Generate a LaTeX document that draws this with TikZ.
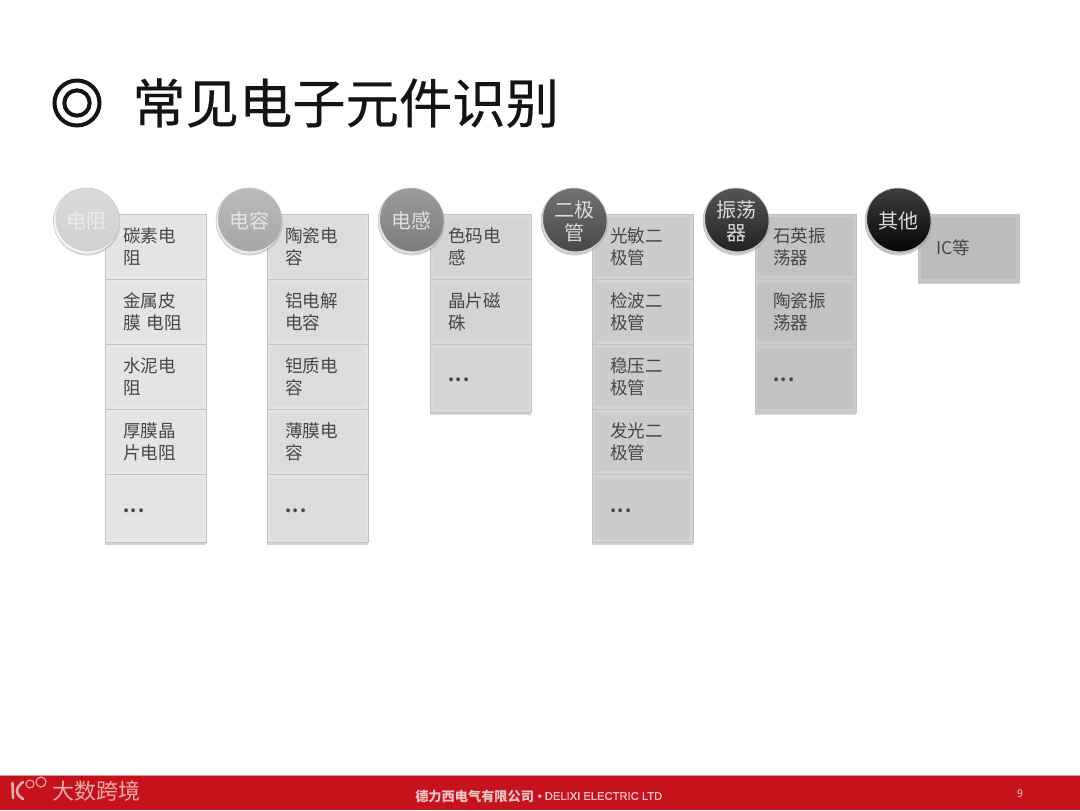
\documentclass[tikz,border=0pt]{standalone}
\usepackage{fontspec}
\setmainfont{Noto Sans CJK SC}
\newfontfamily\titlefont[FakeBold=0.35]{Noto Sans CJK SC}
\newfontfamily\footlatin[FakeBold=1]{Liberation Sans}
\newcommand{\celldots}{\raisebox{-5pt}{\bfseries.\hspace{1.1pt}.\hspace{1.1pt}.}}
\definecolor{footred}{RGB}{198,18,28}
\definecolor{footpink}{RGB}{240,196,196}
\definecolor{brandpink}{RGB}{236,172,172}
\definecolor{cellA}{RGB}{228,228,228}
\definecolor{cellB}{RGB}{220,220,220}
\definecolor{cellC}{RGB}{212,212,212}
\definecolor{cellD}{RGB}{204,204,204}
\definecolor{cellE}{RGB}{194,194,194}
\definecolor{cellF}{RGB}{188,188,188}
\definecolor{ballA}{RGB}{208,208,208}
\definecolor{ballB}{RGB}{166,166,166}
\definecolor{ballC}{RGB}{124,124,124}
\definecolor{ballD}{RGB}{70,70,70}
\definecolor{ballE}{RGB}{32,32,32}
\definecolor{ballF}{RGB}{3,3,3}
\usetikzlibrary{positioning, shadows, fadings}
\tikzfading[name=topgloss, top color=transparent!76, middle color=transparent!100, bottom color=transparent!100]

\begin{document}
\begin{tikzpicture}[
    x=0.75pt, y=-0.75pt,
    cellbox/.style={draw=black!24, line width=0.5pt, fill=#1, text=black!72,
      text width=48.75pt, minimum height=48.9pt, inner xsep=13.5pt, inner ysep=0pt,
      outer sep=0pt, align=left, font=\fontsize{13.2}{16.5}\selectfont,
      path picture={
        \draw[white, opacity=0.16, line width=5pt] (path picture bounding box.north west)
          rectangle (path picture bounding box.south east);
      }},
    lastcell/.style={minimum height=51pt, drop shadow={shadow xshift=0pt, shadow yshift=-1.8pt, opacity=0.35}},
    ball/.style={circle, draw=black!22, line width=0.4pt, fill=#1, minimum size=49.5pt, inner sep=0pt,
      align=center, font=\fontsize{15}{17.3}\selectfont,
      drop shadow={shadow xshift=0.6pt, shadow yshift=-1.2pt, opacity=0.3},
      path picture={
        \fill[white, path fading=topgloss] (path picture bounding box.north west)
          rectangle (path picture bounding box.south east);
        \fill[white, opacity=0.75, even odd rule] (path picture bounding box.center) circle [radius=33]
          ([shift={(1.6,-2.2)}]path picture bounding box.center) circle [radius=32.6];
      }},
    markring/.style={circle, draw=black!92, line width=3pt, inner sep=0pt, minimum size=#1},
    node distance=0pt,
  ]
    \useasboundingbox (0, 0) rectangle (1080, 810);
    % title
    \node[markring=33.75pt] (mark) at (77, 103) {};
    \node[markring=19pt] (markin) at (mark.center) {};
    \node[anchor=west, inner sep=0pt, font=\titlefont\fontsize{40}{44}\selectfont, text=black!92] (title) at (132, 103) {常见电子元件识别};

    % columns
    \node[cellbox=cellA, anchor=north west] (r1) at (105, 214) {碳素电\\阻};
    \node[cellbox=cellA, below=of r1] (r2) {金属皮\\膜 电阻};
    \node[cellbox=cellA, below=of r2] (r3) {水泥电\\阻};
    \node[cellbox=cellA, below=of r3] (r4) {厚膜晶\\片电阻};
    \node[cellbox=cellA, lastcell, below=of r4] (r5) {\celldots};

    \node[cellbox=cellB, anchor=north west] (c1) at (267, 214) {陶瓷电\\容};
    \node[cellbox=cellB, below=of c1] (c2) {铝电解\\电容};
    \node[cellbox=cellB, below=of c2] (c3) {钽质电\\容};
    \node[cellbox=cellB, below=of c3] (c4) {薄膜电\\容};
    \node[cellbox=cellB, lastcell, below=of c4] (c5) {\celldots};

    \node[cellbox=cellC, anchor=north west] (l1) at (430, 214) {色码电\\感};
    \node[cellbox=cellC, below=of l1] (l2) {晶片磁\\硃};
    \node[cellbox=cellC, lastcell, below=of l2] (l3) {\celldots};

    \node[cellbox=cellD, anchor=north west] (d1) at (592, 214) {光敏二\\极管};
    \node[cellbox=cellD, below=of d1] (d2) {检波二\\极管};
    \node[cellbox=cellD, below=of d2] (d3) {稳压二\\极管};
    \node[cellbox=cellD, below=of d3] (d4) {发光二\\极管};
    \node[cellbox=cellD, lastcell, below=of d4] (d5) {\celldots};

    \node[cellbox=cellE, anchor=north west] (o1) at (755, 214) {石英振\\荡器};
    \node[cellbox=cellE, below=of o1] (o2) {陶瓷振\\荡器};
    \node[cellbox=cellE, lastcell, below=of o2] (o3) {\celldots};

    \node[cellbox=cellF, lastcell, anchor=north west] (x1) at (918, 214) {IC等};

    % balls
    \node[ball=ballA, text=white!92!black] (br) at (86.5, 221) {电阻};
    \node[ball=ballB, text=white!90!black] (bc) at (249, 221) {电容};
    \node[ball=ballC, text=white!88!black] (bl) at (411, 221) {电感};
    \node[ball=ballD, text=white!85!black] (bd) at (574, 221) {二极\\管};
    \node[ball=ballE, text=white!85!black] (bo) at (736, 221) {振荡\\器};
    \node[ball=ballF, text=white!85!black] (bx) at (898, 221) {其他};

    % footer
    \node[anchor=north west, fill=footred, minimum width=810pt, minimum height=26.5pt, inner sep=0pt, outer sep=0pt] (foot) at (0, 775) {};
    \fill[footred!45!white] (foot.north west) rectangle ([yshift=-1pt]foot.north east);
    \draw[brandpink, line width=2pt, line cap=round] (12.5, 783) -- (13, 798);
    \draw[brandpink, line width=2pt, line cap=round] (23, 782) .. controls (15, 788) and (15, 794) .. (23, 799);
    \draw[brandpink, line width=0.8pt] (30, 784) circle [radius=4] (41, 782) circle [radius=5];
    \node[anchor=west, inner sep=0pt, text=brandpink, font=\fontsize{16.5}{18}\selectfont] (brand) at (52, 791) {大数跨境};
    \node[anchor=west, inner sep=0pt, text=footpink, font=\fontsize{9.9}{11}\selectfont\bfseries] (company) at (415, 796) {德力西电气有限公司};
    \node[anchor=west, inner sep=0pt, text=footpink, font=\footlatin\fontsize{8.4}{11}\selectfont] (companyen) at (537.5, 796) {• DELIXI ELECTRIC LTD};
    \node[inner sep=0pt, text=footpink, font=\fontsize{8}{10}\selectfont] (pageno) at (1020, 794) {9};
\end{tikzpicture}
\end{document}
